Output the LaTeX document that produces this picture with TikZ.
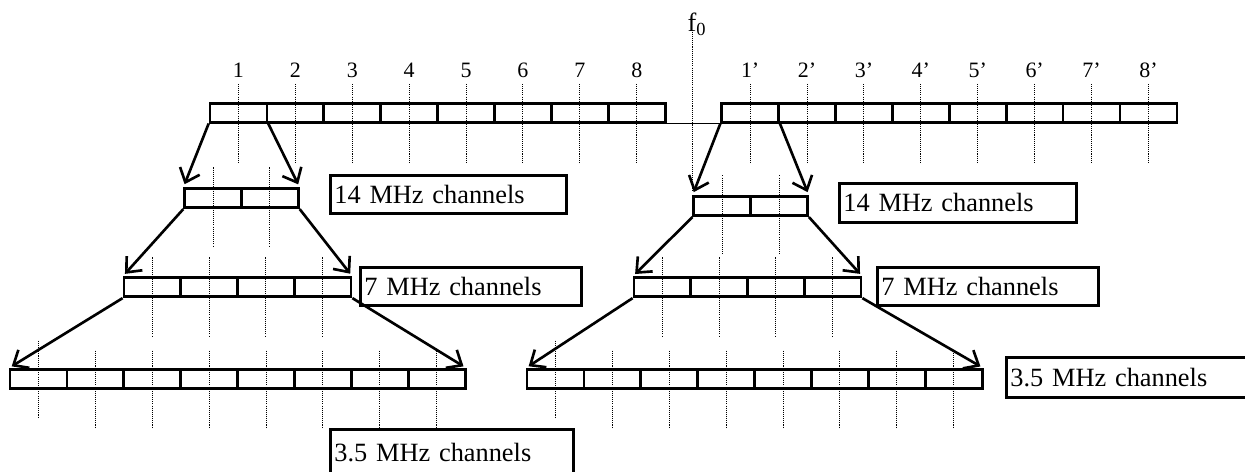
\documentclass[tikz,border=0pt]{standalone}
\usepackage{fontspec}
\setmainfont{Liberation Serif}
\usetikzlibrary{arrows.meta, positioning}

\begin{document}
\begin{tikzpicture}[
    x=0.02cm,
    y=-0.02cm,
    chan/.style={
        draw,
        line width=1.5pt,
        minimum width=1.138cm,
        minimum height=0.38cm,
        inner sep=0pt,
    },
    tag/.style={
        draw,
        line width=1.6pt,
        anchor=north west,
        inner xsep=0.08cm,
        inner ysep=0pt,
        align=left,
        font=\fontsize{15}{18}\selectfont,
    },
    num/.style={
        inner sep=0pt,
        anchor=south,
        text depth=0pt,
        font=\fontsize{12.5}{15}\selectfont,
    },
    split/.style={
        line width=1.5pt,
        -{Straight Barb[length=7pt, width=12pt]},
        shorten >=2pt,
    },
    marker/.style={
        line width=0.6pt,
        dash pattern=on 0.6pt off 0.6pt,
    }
]
    \useasboundingbox (0,0) rectangle (1245,471);

    % Top band
    \foreach \i in {1,...,8} {
        \node[chan] (band\i) at ({210+56.9*(\i-0.5)}, 112.7) {};
        \node[chan] (bandp\i) at ({721.7+56.9*(\i-0.5)}, 112.7) {};
        \node[num, above=0.48cm of band\i] {\i};
        \node[num, above=0.48cm of bandp\i] {\i'};
        \draw[marker] ([yshift=0.36cm]band\i.north) -- ([yshift=-0.79cm]band\i.south);
        \draw[marker] ([yshift=0.36cm]bandp\i.north) -- ([yshift=-0.79cm]bandp\i.south);
    }
    \draw[line width=1pt] (band8.south east) -- (bandp1.south west);

    % 14 MHz channels
    \foreach \i in {1,2} {
        \node[chan] (wideL\i) at ({184.6+56.9*(\i-0.5)}, 198.3) {};
        \node[chan] (wideR\i) at ({693.8+56.9*(\i-0.5)}, 206.2) {};
        \draw[marker] ([yshift=0.4cm]wideL\i.north) -- ([yshift=-0.76cm]wideL\i.south);
        \draw[marker] ([yshift=0.4cm]wideR\i.north) -- ([yshift=-0.76cm]wideR\i.south);
    }

    % f0
    \node[num, font=\fontsize{15}{18}\selectfont] (f0) at (697, 31.7) {f\textsubscript{0}};
    \draw[marker] (f0.south -| wideR1.north west) -- ([yshift=0.07cm]wideR1.north west);

    % 7 MHz channels
    \foreach \i in {1,...,4} {
        \node[chan] (midL\i) at ({124+56.75*(\i-0.5)}, 287.3) {};
        \node[chan] (midR\i) at ({634+56.75*(\i-0.5)}, 287.3) {};
        \draw[marker] ([yshift=0.38cm]midL\i.north) -- ([yshift=-0.76cm]midL\i.south);
        \draw[marker] ([yshift=0.38cm]midR\i.north) -- ([yshift=-0.76cm]midR\i.south);
    }

    % 3.5 MHz channels
    \foreach \i in {1,...,8} {
        \node[chan] (narrowL\i) at ({10+56.9*(\i-0.5)}, 379) {};
        \node[chan] (narrowR\i) at ({527+56.9*(\i-0.5)}, 379) {};
    }
    \foreach \i in {2,...,8} {
        \draw[marker] ([yshift=0.35cm]narrowL\i.north) -- ([yshift=-0.77cm]narrowL\i.south);
        \draw[marker] ([yshift=0.35cm]narrowR\i.north) -- ([yshift=-0.77cm]narrowR\i.south);
    }
    \draw[marker] ([yshift=0.55cm]narrowL1.north) -- ([yshift=-0.55cm]narrowL1.south);
    \draw[marker] ([yshift=0.55cm]narrowR1.north) -- ([yshift=-0.55cm]narrowR1.south);

    % Splits
    \draw[split] (band1.south west) -- (wideL1.north west);
    \draw[split] (band1.south east) -- (wideL2.north east);
    \draw[split] (bandp1.south west) -- (wideR1.north west);
    \draw[split] (bandp1.south east) -- (wideR2.north east);
    \draw[split] (wideL1.south west) -- (midL1.north west);
    \draw[split] (wideL2.south east) -- (midL4.north east);
    \draw[split] (wideR1.south west) -- (midR1.north west);
    \draw[split] (wideR2.south east) -- (midR4.north east);
    \draw[split] (midL1.south west) -- (narrowL1.north west);
    \draw[split] (midL4.south east) -- (narrowL8.north east);
    \draw[split] (midR1.south west) -- (narrowR1.north west);
    \draw[split] (midR4.south east) -- (narrowR8.north east);

    % Channel widths
    \node[tag, text width=4.56cm, minimum height=0.766cm] (tagL14) at (329, 174) {14 MHz channels};
    \node[tag, text width=4.58cm, minimum height=0.78cm] (tagR14) at (838, 181.7) {14 MHz channels};
    \node[tag, text width=4.26cm, minimum height=0.76cm] (tagL7) at (359, 266) {7 MHz channels};
    \node[tag, text width=4.27cm, minimum height=0.76cm] (tagR7) at (876, 266) {7 MHz channels};
    \node[tag, text width=4.71cm, minimum height=0.9cm] (tagL3) at (329, 428.3) {3.5 MHz channels};
    \node[tag, text width=5.2cm, minimum height=0.794cm] (tagR3) at (1005, 356) {3.5 MHz channels};
\end{tikzpicture}
\end{document}
